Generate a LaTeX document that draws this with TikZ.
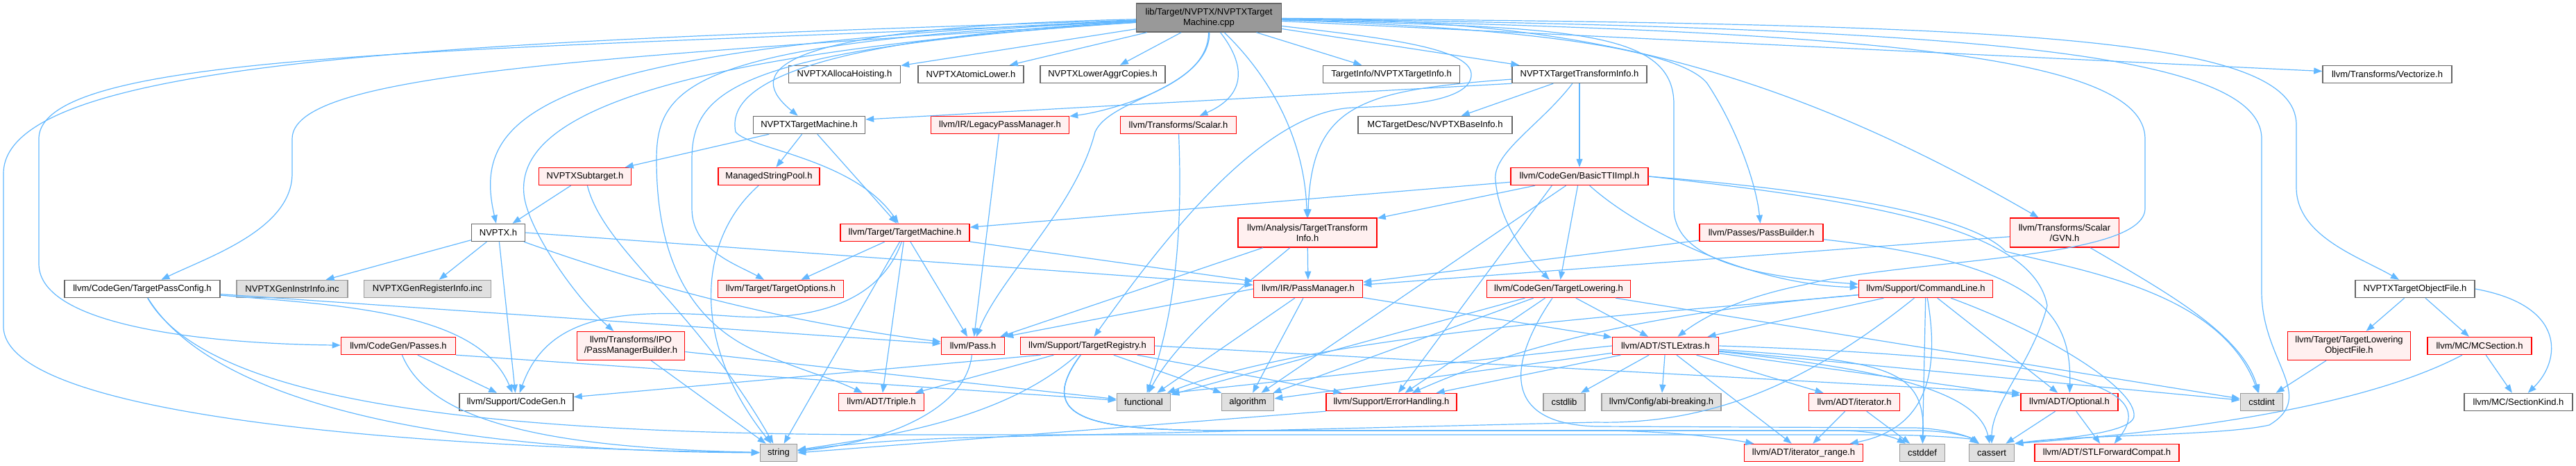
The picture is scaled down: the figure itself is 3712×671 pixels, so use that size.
\documentclass[tikz,border=0pt]{standalone}
\usepackage{fontspec}
\setmainfont{Liberation Sans}
\usetikzlibrary{arrows.meta}
\definecolor{edgec}{HTML}{63B8FF}
\definecolor{redfill}{HTML}{FFF0F0}
\definecolor{grayfill}{HTML}{E0E0E0}
\definecolor{grayborder}{HTML}{999999}
\definecolor{darkborder}{HTML}{666666}
\definecolor{mainfill}{HTML}{999999}
\definecolor{redborder}{HTML}{FF0000}
\newcommand\ndfont{\fontsize{13pt}{15pt}\selectfont}
\tikzset{
  wbox/.style={draw=darkborder, fill=white, line width=1.5pt, minimum height=25pt, inner xsep=2pt, inner ysep=2pt, font=\ndfont, text=black, align=center},
  rbox/.style={wbox, draw=redborder, fill=redfill},
  gbox/.style={wbox, draw=grayborder, fill=grayfill},
  mbox/.style={wbox, draw=darkborder, fill=mainfill},
  dep/.style={draw=edgec, line width=1.2pt, -{Triangle[length=12pt,width=9pt]}},
}
\begin{document}
\begin{tikzpicture}[x=1pt,y=-1pt]
\useasboundingbox (0,0) rectangle (3712,671);
% row 1
\node[mbox, minimum width=209pt, minimum height=41pt] (main) at (1742,25.5) {lib/Target/NVPTX/NVPTXTarget\\Machine.cpp};
% row 2
\node[wbox, minimum width=161pt] (ah) at (1217,107) {NVPTXAllocaHoisting.h};
\node[wbox, minimum width=152pt] (al) at (1399,107) {NVPTXAtomicLower.h};
\node[wbox, minimum width=180pt] (lac) at (1589,107) {NVPTXLowerAggrCopies.h};
\node[wbox, minimum width=197pt] (ti) at (2005,107) {TargetInfo/NVPTXTargetInfo.h};
\node[wbox, minimum width=194pt] (tti) at (2276,107) {NVPTXTargetTransformInfo.h};
\node[wbox, minimum width=186pt] (vec) at (3440,107) {llvm/Transforms/Vectorize.h};
% row 3
\node[wbox, minimum width=161pt] (tm) at (1166,180) {NVPTXTargetMachine.h};
\node[rbox, minimum width=199pt] (lpm) at (1441,180) {llvm/IR/LegacyPassManager.h};
\node[rbox, minimum width=167pt] (scal) at (1698,180) {llvm/Transforms/Scalar.h};
\node[wbox, minimum width=222pt] (bi) at (2068,180) {MCTargetDesc/NVPTXBaseInfo.h};
% row 4
\node[rbox, minimum width=133pt] (sub) at (843,254) {NVPTXSubtarget.h};
\node[rbox, minimum width=146pt] (msp) at (1108,254) {ManagedStringPool.h};
\node[rbox, minimum width=198pt] (btti) at (2276,254) {llvm/CodeGen/BasicTTIImpl.h};
% row 5
\node[wbox, minimum width=77pt] (nvptx) at (718,335) {NVPTX.h};
\node[rbox, minimum width=186pt] (ltm) at (1304,335) {llvm/Target/TargetMachine.h};
\node[rbox, minimum width=200pt, minimum height=42pt] (atti) at (1884,335) {llvm/Analysis/TargetTransform\\Info.h};
\node[rbox, minimum width=178pt] (pb) at (2538,335) {llvm/Passes/PassBuilder.h};
\node[rbox, minimum width=157pt, minimum height=42pt] (gvn) at (2975,335) {llvm/Transforms/Scalar\\/GVN.h};
% row 6
\node[wbox, minimum width=224pt] (tpc) at (205,416) {llvm/CodeGen/TargetPassConfig.h};
\node[gbox, minimum width=160pt] (gii) at (421,416) {NVPTXGenInstrInfo.inc};
\node[gbox, minimum width=183pt] (gri) at (616,416) {NVPTXGenRegisterInfo.inc};
\node[rbox, minimum width=181pt] (to) at (1125,416) {llvm/Target/TargetOptions.h};
\node[rbox, minimum width=157pt] (irpm) at (1885,416) {llvm/IR/PassManager.h};
\node[rbox, minimum width=207pt] (tl) at (2246,416) {llvm/CodeGen/TargetLowering.h};
\node[rbox, minimum width=193pt] (cl) at (2775,416) {llvm/Support/CommandLine.h};
\node[wbox, minimum width=172pt] (tof) at (3480,416) {NVPTXTargetObjectFile.h};
% row 7
\node[rbox, minimum width=165pt] (passes) at (574,498) {llvm/CodeGen/Passes.h};
\node[rbox, minimum width=155pt, minimum height=41pt] (pmb) at (909,498) {llvm/Transforms/IPO\\/PassManagerBuilder.h};
\node[rbox, minimum width=91pt] (pass) at (1402,498) {llvm/Pass.h};
\node[rbox, minimum width=193pt] (treg) at (1567,498) {llvm/Support/TargetRegistry.h};
\node[rbox, minimum width=153pt] (stle) at (2400,498) {llvm/ADT/STLExtras.h};
\node[rbox, minimum width=177pt, minimum height=41pt] (tlof) at (3385,498) {llvm/Target/TargetLowering\\ObjectFile.h};
\node[rbox, minimum width=150pt] (mcs) at (3573,498) {llvm/MC/MCSection.h};
% row 8
\node[wbox, minimum width=164pt] (cg) at (744,579) {llvm/Support/CodeGen.h};
\node[rbox, minimum width=123pt] (tri) at (1270,579) {llvm/ADT/Triple.h};
\node[gbox, minimum width=77pt] (fun) at (1648,579) {functional};
\node[gbox, minimum width=75pt] (alg) at (1798,579) {algorithm};
\node[rbox, minimum width=188pt] (eh) at (2005,579) {llvm/Support/ErrorHandling.h};
\node[gbox, minimum width=60pt] (csl) at (2254,579) {cstdlib};
\node[gbox, minimum width=172pt] (abi) at (2394,579) {llvm/Config/abi-breaking.h};
\node[rbox, minimum width=131pt] (iter) at (2672,579) {llvm/ADT/iterator.h};
\node[rbox, minimum width=140pt] (opt) at (2982,579) {llvm/ADT/Optional.h};
\node[gbox, minimum width=61pt] (cint) at (3259,579) {cstdint};
\node[wbox, minimum width=156pt] (sk) at (3629,579) {llvm/MC/SectionKind.h};
% row 9
\node[gbox, minimum width=53pt] (str) at (1122,652) {string};
\node[rbox, minimum width=171pt] (ir) at (2599,652) {llvm/ADT/iterator\_range.h};
\node[gbox, minimum width=65pt] (cdef) at (2770,652) {cstddef};
\node[gbox, minimum width=65pt] (cas) at (2870,652) {cassert};
\node[rbox, minimum width=208pt] (stlfc) at (3036,652) {llvm/ADT/STLForwardCompat.h};

% ---- edges from main
\draw[dep] (main) .. controls (1080,40) and (1080,110) .. (tm);
\draw[dep] (main) .. controls (760,65) and (680,170) .. (nvptx);
\draw[dep] (main) -- (ah);
\draw[dep] (main) -- (al);
\draw[dep] (main) -- (lac);
\draw[dep] (main) -- (ti);
\draw[dep] (main) -- (tti);
\draw[dep] (main) -- (vec);
\draw[dep] (main) .. controls (1740,130) and (1600,140) .. (1578,190) .. controls (1550,300) and (1440,400) .. (pass);
\draw[dep] (main) .. controls (1745,120) and (1600,160) .. (lpm);
\draw[dep] (main) .. controls (1800,100) and (1790,140) .. (scal);
\draw[dep] (main) .. controls (1830,110) and (1880,200) .. (atti);
\draw[dep] (main) .. controls (2000,55) and (2125,70) .. (2120,110) .. controls (2115,150) and (2000,153) .. (1950,155) .. controls (1820,160) and (1680,340) .. (treg);
\draw[dep] (main) .. controls (2200,40) and (2420,70) .. (2460,120) .. controls (2500,180) and (2530,260) .. (pb);
\draw[dep] (main) .. controls (2200,30) and (2500,60) .. (gvn);
\draw[dep] (main) .. controls (2250,40) and (2412,40) .. (2412,150) -- (2412,300) .. controls (2412,380) and (2550,400) .. (cl);
\draw[dep] (main) .. controls (2700,45) and (3091,80) .. (3091,200) -- (3091,300) .. controls (3091,375) and (2750,372) .. (2600,410) .. controls (2500,430) and (2450,460) .. (stle);
\draw[dep] (main) .. controls (2900,35) and (3309,50) .. (3309,180) -- (3309,270) .. controls (3309,340) and (3400,370) .. (tof);
\draw[dep] (main) .. controls (2800,40) and (3259,70) .. (3259,200) -- (3259,420) .. controls (3259,520) and (3340,570) .. (3270,612) .. controls (3200,628) and (2990,626) .. (cas.north east);
\draw[dep] (main) .. controls (700,60) and (5,80) .. (5,250) -- (5,470) .. controls (5,600) and (600,645) .. (str);
\draw[dep] (main) .. controls (700,75) and (56,70) .. (56,200) -- (56,380) .. controls (56,470) and (300,495) .. (passes);
\draw[dep] (main) .. controls (800,85) and (421,110) .. (421,200) -- (421,250) .. controls (421,330) and (300,370) .. (tpc);
\draw[dep] (main) .. controls (900,80) and (745,180) .. (755,280) .. controls (760,330) and (830,430) .. (pmb);
\draw[dep] (main) .. controls (1000,60) and (946,120) .. (946,230) .. controls (946,380) and (1000,470) .. (1100,510) .. controls (1160,535) and (1200,545) .. (tri);
\draw[dep] (main) .. controls (1060,70) and (997,130) .. (997,230) -- (997,300) .. controls (997,360) and (1060,380) .. (to);
\draw[dep] (main) .. controls (1100,60) and (1050,140) .. (1060,190) .. controls (1080,215) and (1230,228) .. (ltm);

% ---- NVPTXTargetMachine.h / TTI
\draw[dep] (tm) -- (sub);
\draw[dep] (tm) -- (msp);
\draw[dep] (tm) -- (ltm);
\draw[dep] (tti.south west) -- ([yshift=8pt]tm.east);
\draw[dep] (tti) -- (bi);
\draw[dep] (tti) -- (btti);
\draw[dep] (tti) .. controls (1960,130) and (1890,150) .. (atti);
\draw[dep] (tti) .. controls (2220,180) and (2150,220) .. (2155,260) .. controls (2160,320) and (2200,370) .. (tl);
\draw[dep] (sub) -- (nvptx);
\draw[dep] (sub) .. controls (870,360) and (1000,440) .. (str);
\draw[dep] (msp) .. controls (1000,350) and (1000,500) .. (str);

% ---- BasicTTIImpl
\draw[dep] (btti) -- (atti);
\draw[dep] (btti) -- (ltm);
\draw[dep] (btti) -- (alg);
\draw[dep] ([xshift=60pt]btti.south west) -- (eh);
\draw[dep] (btti) -- (tl);
\draw[dep] (btti) .. controls (2360,330) and (2520,410) .. (cl);
\draw[dep] (btti.east) .. controls (2700,280) and (2850,320) .. (2890,362) .. controls (3000,390) and (3200,420) .. (cint);
\draw[dep] (btti.east) .. controls (2700,290) and (2930,330) .. (2950,440) .. controls (2930,520) and (2870,580) .. (cas);

% ---- NVPTX.h
\draw[dep] (nvptx) -- (gii);
\draw[dep] (nvptx) -- (gri);
\draw[dep] (nvptx) -- (cg);
\draw[dep] (nvptx) .. controls (900,400) and (1100,460) .. (pass);
\draw[dep] (nvptx.east) -- (irpm);

% ---- TargetMachine.h
\draw[dep] (ltm) -- (pass);
\draw[dep] (ltm) -- (tri);
\draw[dep] (ltm) -- (str);
\draw[dep] (ltm) -- (to);
\draw[dep] (ltm) .. controls (1270,430) and (1180,465) .. (1050,455) .. controls (900,445) and (790,450) .. (cg);
\draw[dep] (ltm) -- (irpm);

% ---- Analysis TTI / IR PassManager
\draw[dep] (atti) -- (irpm);
\draw[dep] (atti) -- (pass);
\draw[dep] (atti) .. controls (1820,390) and (1700,480) .. (fun);
\draw[dep] (irpm.west) -- (pass.north east);
\draw[dep] (irpm) -- (fun);
\draw[dep] (irpm) -- (alg);
\draw[dep] (irpm) -- (stle);

% ---- PassBuilder / GVN
\draw[dep] (pb) -- (irpm);
\draw[dep] (pb) .. controls (2950,380) and (2985,460) .. (opt);
\draw[dep] (gvn) -- (irpm);
\draw[dep] (gvn) .. controls (3120,420) and (3230,480) .. (cint);

% ---- TargetPassConfig
\draw[dep] (tpc) -- (pass);
\draw[dep] (tpc) .. controls (500,440) and (690,450) .. (cg);
\draw[dep] (tpc) .. controls (300,570) and (600,650) .. (str);
\draw[dep] (tpc) .. controls (300,580) and (700,626) .. (1300,626) -- (2700,626) .. controls (2790,626) and (2840,632) .. (cas);

% ---- Passes / PMB / Pass / Scalar / LPM
\draw[dep] (passes) -- (cg);
\draw[dep] (passes.south east) -- (fun);
\draw[dep] (passes) .. controls (620,610) and (800,645) .. (str);
\draw[dep] (pmb) -- (fun);
\draw[dep] (pmb) -- (str);
\draw[dep] (pass) .. controls (1390,600) and (1250,640) .. (str);
\draw[dep] (scal) .. controls (1705,350) and (1690,460) .. (fun);
\draw[dep] (lpm) -- (pass);

% ---- TargetRegistry
\draw[dep] ([xshift=30pt]treg.south west) -- (cg);
\draw[dep] (treg) -- (tri);
\draw[dep] (treg) .. controls (1450,600) and (1300,625) .. (str);
\draw[dep] (treg) -- (alg);
\draw[dep] (treg) -- (eh);
\draw[dep] (treg.east) -- (opt.north west);
\draw[dep] (treg) .. controls (1480,615) and (1600,620) .. (1800,620) -- (2300,620) .. controls (2400,620) and (2480,630) .. (ir);
\draw[dep] (treg) .. controls (1480,615) and (1600,620) .. (1800,620) -- (2650,620) .. controls (2700,620) and (2730,630) .. (cdef);
\draw[dep] (treg) .. controls (1480,615) and (1600,620) .. (1800,620) -- (2760,620) .. controls (2810,620) and (2840,630) .. (cas);

% ---- STLExtras
\draw[dep] (stle.west) -- (fun.north east);
\draw[dep] (stle) -- (alg);
\draw[dep] (stle) -- (eh);
\draw[dep] (stle) -- (csl);
\draw[dep] (stle) -- (abi);
\draw[dep] (stle) -- (iter);
\draw[dep] ([xshift=16pt]stle.south) -- (ir);
\draw[dep] (stle) -- (opt);
\draw[dep] (stle.east) .. controls (3000,515) and (3110,560) .. (stlfc);
\draw[dep] (stle) .. controls (2700,530) and (2850,560) .. (cas);
\draw[dep] (stle) .. controls (2720,520) and (2775,530) .. (cdef);
\draw[dep] (stle) -- (cint);

% ---- TargetLowering
\draw[dep] (tl) -- (alg);
\draw[dep] (tl) -- (fun);
\draw[dep] (tl) -- (eh);
\draw[dep] (tl) -- (stle);
\draw[dep] (tl) -- (cint);
\draw[dep] (tl) .. controls (2175,520) and (2160,610) .. (2300,614) -- (2760,616) .. controls (2810,618) and (2840,630) .. (cas);

% ---- CommandLine
\draw[dep] (cl) -- (stle);
\draw[dep] (cl) -- (opt);
\draw[dep] (cl) .. controls (2800,560) and (2760,620) .. (ir);
\draw[dep] (cl) -- (cdef);
\draw[dep] (cl) .. controls (2500,440) and (2250,470) .. (eh);
\draw[dep] (cl) .. controls (2400,450) and (1900,480) .. (fun);
\draw[dep] (cl) .. controls (2620,540) and (2480,612) .. (2300,608) -- (1400,630) .. controls (1250,634) and (1180,645) .. (str);
\draw[dep] (cl) .. controls (2950,480) and (3080,560) .. (3075,600) .. controls (3070,625) and (2960,632) .. (cas.north east);

% ---- leaves
\draw[dep] (opt) -- (cas);
\draw[dep] (opt) -- (stlfc);
\draw[dep] (iter) -- (ir);
\draw[dep] (iter) -- (cdef);
\draw[dep] (eh.south west) -- (str.east);
\draw[dep] (mcs) -- (sk);
\draw[dep] (mcs) .. controls (3380,600) and (3050,628) .. (cas.north east);
\draw[dep] (tof) -- (tlof);
\draw[dep] (tof) -- (mcs);
\draw[dep] (tof.east) .. controls (3700,440) and (3690,520) .. (sk);
\draw[dep] (tlof) -- (cint);
\end{tikzpicture}
\end{document}
